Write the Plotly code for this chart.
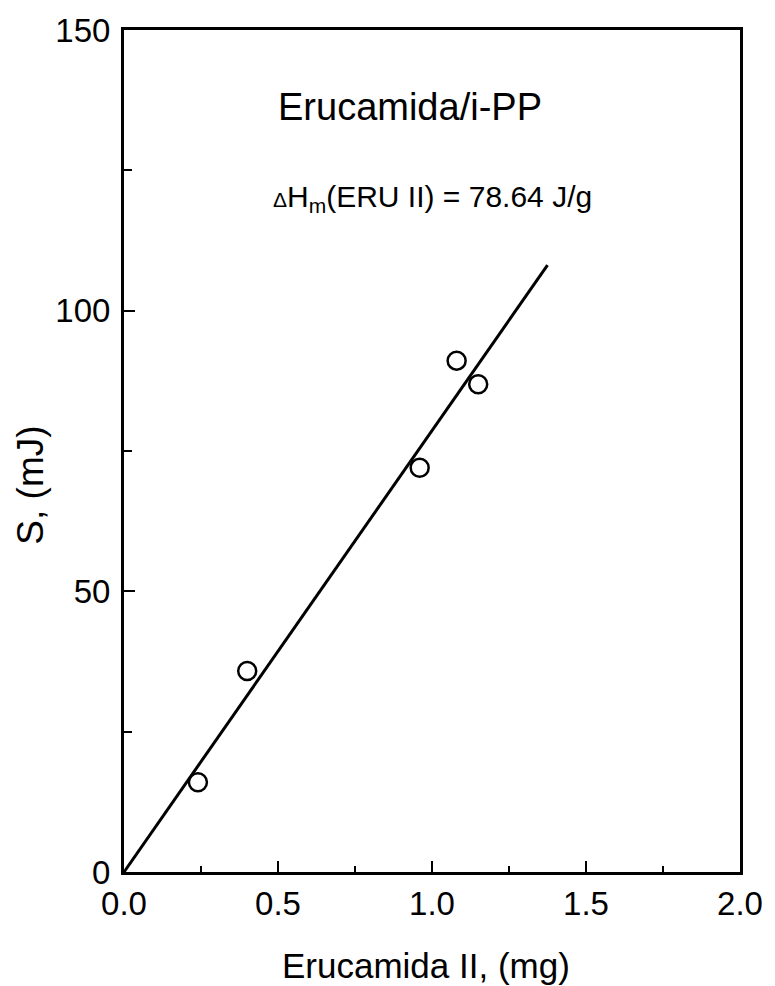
import plotly.graph_objects as go

# Erucamide (form II) mass vs. melting-peak area, erucamide / i-PP blends
mass_mg = [0.24, 0.40, 0.96, 1.08, 1.15]
area_mJ = [16.0, 35.8, 72.0, 91.1, 86.9]

# Linear fit through the origin: slope = melting enthalpy (J/g == mJ/mg)
dH_m = 78.64
fit_x = [0.0, 1.375]
fit_y = [dH_m * x for x in fit_x]

x_ticks = [0.0, 0.5, 1.0, 1.5, 2.0]
y_ticks = [0, 50, 100, 150]

FONT = "Liberation Sans, Arial, sans-serif"

fig = go.Figure()
fig.add_trace(go.Scatter(
    x=fit_x, y=fit_y, mode="lines",
    line=dict(color="black", width=3),
    hoverinfo="skip", showlegend=False,
))
fig.add_trace(go.Scatter(
    x=mass_mg, y=area_mJ, mode="markers",
    marker=dict(symbol="circle-open", size=18, color="black",
                line=dict(color="black", width=2.5)),
    showlegend=False,
))

axis_common = dict(
    showgrid=False, zeroline=False,
    showline=True, linecolor="black", linewidth=3, mirror=True,
    ticks="inside", ticklen=11, tickwidth=2, tickcolor="black",
    tickfont=dict(family=FONT, size=33, color="black"),
)

fig.update_xaxes(
    range=[0, 2.0], tickvals=x_ticks,
    ticktext=[f"{v:.1f}" for v in x_ticks],
    minor=dict(dtick=0.25, ticks="inside", ticklen=6, tickwidth=2, tickcolor="black"),
    **axis_common,
)
fig.update_yaxes(
    range=[0, 150], tickvals=y_ticks,
    ticktext=[str(v) for v in y_ticks],
    minor=dict(dtick=25, ticks="inside", ticklen=8, tickwidth=2, tickcolor="black"),
    ticklabelstandoff=4,
    **axis_common,
)

# axis titles
fig.add_annotation(
    text="Erucamida II, (mg)", xref="paper", yref="paper",
    x=0.49, y=-0.1116, xanchor="center", yanchor="middle", showarrow=False,
    font=dict(family=FONT, size=35, color="black"),
)
fig.add_annotation(
    text="S, (mJ)", textangle=-90, xref="paper", yref="paper",
    x=-0.151, y=0.46, xanchor="center", yanchor="middle", showarrow=False,
    font=dict(family=FONT, size=37, color="black"),
)

# in-plot labels
fig.add_annotation(
    text="Erucamida/i-PP", xref="x", yref="y", x=0.93, y=136.3,
    xanchor="center", yanchor="middle",
    showarrow=False, font=dict(family=FONT, size=38, color="black"),
)
fig.add_annotation(
    text="<span style='font-size:21px'>Δ</span>H<sub>m</sub>(ERU II) = 78.64 J/g",
    xref="x", yref="y", x=1.0, y=120.0,
    xanchor="center", yanchor="middle",
    showarrow=False, font=dict(family=FONT, size=30, color="black"),
)

fig.update_layout(
    width=775, height=986,
    margin=dict(l=124, r=29, t=30, b=114),
    paper_bgcolor="white", plot_bgcolor="white",
)

fig.write_html("out.html")
